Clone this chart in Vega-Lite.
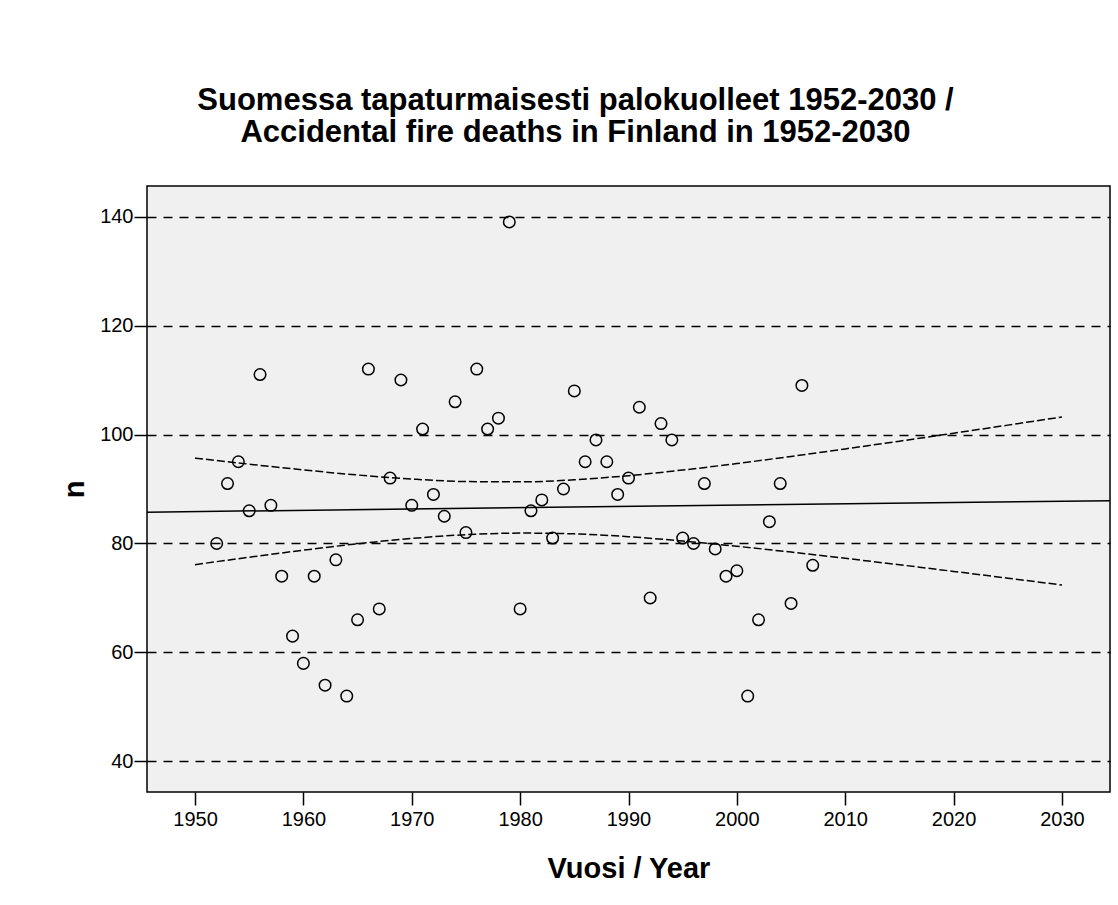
{
  "$schema": "https://vega.github.io/schema/vega-lite/v6.json",
  "width": 963,
  "height": 606,
  "autosize": {"type": "none"},
  "padding": {"left": 147, "top": 186, "right": 8, "bottom": 113},
  "background": "white",
  "title": {
    "text": ["Suomessa tapaturmaisesti palokuolleet 1952-2030 /", "Accidental fire deaths in Finland in 1952-2030"],
    "font": "Liberation Sans",
    "fontSize": 31,
    "fontWeight": "bold",
    "color": "black",
    "anchor": "middle",
    "frame": "group",
    "dx": -53,
    "baseline": "alphabetic",
    "lineHeight": 32,
    "offset": 13
  },
  "config": {
    "view": {"fill": "#f0f0f0", "stroke": "black", "strokeWidth": 1.5},
    "axis": {
      "domain": false,
      "tickColor": "black",
      "tickWidth": 1.5,
      "tickSize": 13,
      "labelFont": "Liberation Sans",
      "labelFontSize": 20,
      "labelColor": "black",
      "titleFont": "Liberation Sans",
      "titleFontSize": 29,
      "titleFontWeight": "bold",
      "titleColor": "black"
    }
  },
  "datasets": {
    "deaths": [
      {"year": 1952, "n": 80}, {"year": 1953, "n": 91}, {"year": 1954, "n": 95}, {"year": 1955, "n": 86},
      {"year": 1956, "n": 111}, {"year": 1957, "n": 87}, {"year": 1958, "n": 74}, {"year": 1959, "n": 63},
      {"year": 1960, "n": 58}, {"year": 1961, "n": 74}, {"year": 1962, "n": 54}, {"year": 1963, "n": 77},
      {"year": 1964, "n": 52}, {"year": 1965, "n": 66}, {"year": 1966, "n": 112}, {"year": 1967, "n": 68},
      {"year": 1968, "n": 92}, {"year": 1969, "n": 110}, {"year": 1970, "n": 87}, {"year": 1971, "n": 101},
      {"year": 1972, "n": 89}, {"year": 1973, "n": 85}, {"year": 1974, "n": 106}, {"year": 1975, "n": 82},
      {"year": 1976, "n": 112}, {"year": 1977, "n": 101}, {"year": 1978, "n": 103}, {"year": 1979, "n": 139},
      {"year": 1980, "n": 68}, {"year": 1981, "n": 86}, {"year": 1982, "n": 88}, {"year": 1983, "n": 81},
      {"year": 1984, "n": 90}, {"year": 1985, "n": 108}, {"year": 1986, "n": 95}, {"year": 1987, "n": 99},
      {"year": 1988, "n": 95}, {"year": 1989, "n": 89}, {"year": 1990, "n": 92}, {"year": 1991, "n": 105},
      {"year": 1992, "n": 70}, {"year": 1993, "n": 102}, {"year": 1994, "n": 99}, {"year": 1995, "n": 81},
      {"year": 1996, "n": 80}, {"year": 1997, "n": 91}, {"year": 1998, "n": 79}, {"year": 1999, "n": 74},
      {"year": 2000, "n": 75}, {"year": 2001, "n": 52}, {"year": 2002, "n": 66}, {"year": 2003, "n": 84},
      {"year": 2004, "n": 91}, {"year": 2005, "n": 69}, {"year": 2006, "n": 109}, {"year": 2007, "n": 76}
    ],
    "fit": [
      {"year": 1945.57, "n": 85.75},
      {"year": 2034.43, "n": 87.85}
    ],
    "ci": [
      {"year": 1950, "n": 95.68, "bound": "upper"}, {"year": 1955, "n": 94.56, "bound": "upper"},
      {"year": 1960, "n": 93.51, "bound": "upper"}, {"year": 1965, "n": 92.57, "bound": "upper"},
      {"year": 1970, "n": 91.83, "bound": "upper"}, {"year": 1975, "n": 91.37, "bound": "upper"},
      {"year": 1980, "n": 91.31, "bound": "upper"}, {"year": 1985, "n": 91.69, "bound": "upper"},
      {"year": 1990, "n": 92.45, "bound": "upper"}, {"year": 1995, "n": 93.48, "bound": "upper"},
      {"year": 2000, "n": 94.67, "bound": "upper"}, {"year": 2005, "n": 95.98, "bound": "upper"},
      {"year": 2010, "n": 97.36, "bound": "upper"}, {"year": 2015, "n": 98.78, "bound": "upper"},
      {"year": 2020, "n": 100.24, "bound": "upper"}, {"year": 2025, "n": 101.72, "bound": "upper"},
      {"year": 2030, "n": 103.22, "bound": "upper"},
      {"year": 1950, "n": 76.12, "bound": "lower"}, {"year": 1955, "n": 77.48, "bound": "lower"},
      {"year": 1960, "n": 78.77, "bound": "lower"}, {"year": 1965, "n": 79.95, "bound": "lower"},
      {"year": 1970, "n": 80.93, "bound": "lower"}, {"year": 1975, "n": 81.61, "bound": "lower"},
      {"year": 1980, "n": 81.91, "bound": "lower"}, {"year": 1985, "n": 81.77, "bound": "lower"},
      {"year": 1990, "n": 81.25, "bound": "lower"}, {"year": 1995, "n": 80.46, "bound": "lower"},
      {"year": 2000, "n": 79.49, "bound": "lower"}, {"year": 2005, "n": 78.42, "bound": "lower"},
      {"year": 2010, "n": 77.28, "bound": "lower"}, {"year": 2015, "n": 76.10, "bound": "lower"},
      {"year": 2020, "n": 74.88, "bound": "lower"}, {"year": 2025, "n": 73.64, "bound": "lower"},
      {"year": 2030, "n": 72.38, "bound": "lower"}
    ]
  },
  "encoding": {
    "x": {
      "field": "year",
      "type": "quantitative",
      "scale": {"domain": [1945.57, 2034.43], "nice": false, "zero": false},
      "axis": {
        "values": [1950, 1960, 1970, 1980, 1990, 2000, 2010, 2020, 2030],
        "format": "d",
        "title": "Vuosi / Year",
        "grid": false,
        "labelPadding": 4,
        "titleY": 85,
        "titleBaseline": "alphabetic"
      }
    },
    "y": {
      "field": "n",
      "type": "quantitative",
      "scale": {"domain": [34.4, 145.6], "nice": false, "zero": false},
      "axis": {
        "values": [40, 60, 80, 100, 120, 140],
        "title": "n",
        "grid": true,
        "gridColor": "black",
        "gridWidth": 1.3,
        "gridDash": [9, 7],
        "labelPadding": 1,
        "titleX": -64,
        "titleY": 303,
        "titleAngle": -90,
        "titleAlign": "center",
        "titleBaseline": "alphabetic"
      }
    }
  },
  "layer": [
    {
      "data": {"name": "fit"},
      "mark": {"type": "line", "color": "black", "strokeWidth": 1.5},
      "encoding": {}
    },
    {
      "data": {"name": "ci"},
      "mark": {"type": "line", "color": "black", "strokeWidth": 1.5, "strokeDash": [8, 3], "interpolate": "monotone"},
      "encoding": {"detail": {"field": "bound", "type": "nominal"}}
    },
    {
      "data": {"name": "deaths"},
      "mark": {"type": "point", "shape": "circle", "filled": false, "stroke": "black", "strokeWidth": 1.5, "size": 133, "opacity": 1},
      "encoding": {}
    }
  ]
}
